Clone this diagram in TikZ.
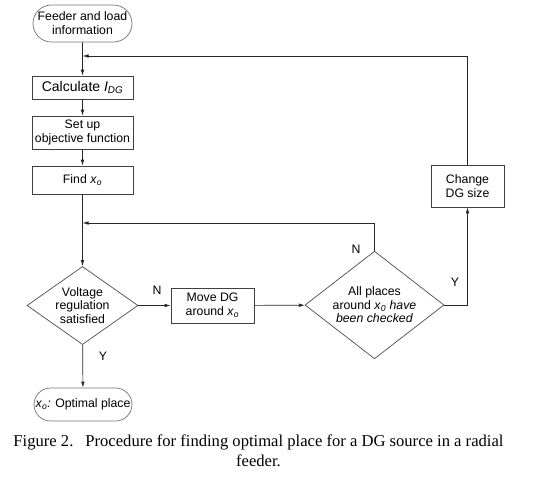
\documentclass[tikz,border=0pt]{standalone}
\usepackage{fontspec}
\setmainfont{Liberation Sans}
\newfontfamily\capfont{Liberation Serif}
\usetikzlibrary{arrows.meta,shapes,positioning}
\newcommand{\diagfont}{\fontsize{12.3}{14}\selectfont}
\tikzset{
	process/.style={draw=black!75, line width=0.7pt, align=center, inner sep=1pt, minimum width=101pt, font=\diagfont},
	terminal/.style={rounded rectangle, draw=black!55, line width=0.7pt, align=center, inner sep=1pt, minimum width=101pt, font=\diagfont},
	decision/.style={diamond, draw=black!70, line width=0.7pt, align=center, inner sep=-3pt, font=\fontsize{12.3}{13.5}\selectfont},
	flow/.style={draw=black!85, line width=0.7pt, -{Latex[length=6pt,width=3.6pt]}},
	tag/.style={font=\diagfont, inner sep=0pt}
}
\begin{document}
\begin{tikzpicture}[x=1pt, y=-1pt]
				\useasboundingbox (0,0) rectangle (538,488);
				\node[terminal, minimum height=37pt] (feeder) at (82.5,23.5) {Feeder and load\\information};
				\node[process, minimum height=23pt, font=\fontsize{14}{16}\selectfont] (calc) at (82.5,87.5) {Calculate \textit{I}\textsubscript{\textit{DG}}};
				\node[process, minimum height=33pt] (objective) at (82.5,132.5) {Set up\\objective function};
				\node[process, minimum height=28pt] (find) at (82.5,180) {Find \textit{x}\textsubscript{\textit{o}}};
				\node[decision, minimum width=111pt, minimum height=73pt] (voltage) at (82.5,305.5) {Voltage\\regulation\\satisfied};
				\node[process, minimum width=83pt, minimum height=35pt] (move) at (212.5,305.5) {Move DG\\around \textit{x}\textsubscript{\textit{o}}};
				\node[decision, minimum width=139pt, minimum height=82pt] (checked) at (374.5,305) {All places\\around \textit{x}\textsubscript{\textit{0}} \textit{have}\\\textit{been checked}};
				\node[process, minimum width=73pt, minimum height=42pt] (size) at (467.5,186) {Change\\DG size};
				\node[terminal, minimum width=100pt, minimum height=33pt] (optimal) at (83,404.5) {\textit{x}\textsubscript{\textit{o}}\textit{:} Optimal place};
				\coordinate (back1) at (82.5,56);
				\coordinate (back2) at (82.5,223);
				\draw[flow] (feeder) -- (calc);
				\draw[flow] (calc) -- (objective);
				\draw[flow] (objective) -- (find);
				\draw[flow] (find) -- (voltage);
				\draw[flow] (voltage) -- (move);
				\draw[flow] (move) -- (checked);
				\draw[flow] (checked.east) -| (size);
				\draw[flow] (size) |- (back1);
				\draw[flow] (checked) |- (back2);
				\draw[flow] (voltage) -- (optimal);
				\node[tag] (no1) at (157,290) {N};
				\node[tag] (no2) at (356,249) {N};
				\node[tag] (yes1) at (455,282) {Y};
				\node[tag] (yes2) at (103,356) {Y};
				\node[font=\capfont\fontsize{16.6}{20}\selectfont, align=center, inner sep=0pt] (caption) at (258.5,450.5) {Figure 2.\hspace{12pt}Procedure for finding optimal place for a DG source in a radial\\feeder.};
			\end{tikzpicture}
\end{document}
